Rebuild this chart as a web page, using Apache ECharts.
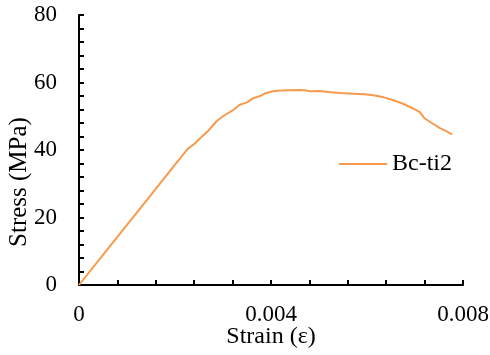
<!DOCTYPE html>
<html>
<head>
<meta charset="utf-8">
<script src="https://cdn.jsdelivr.net/npm/echarts@6/dist/echarts.min.js"></script>
<style>
  html, body { margin: 0; padding: 0; background: #fff; }
  #chart { width: 490px; height: 355px; }
</style>
</head>
<body>
<div id="chart"></div>
<script>
// Strain (ε) and stress (MPa) for specimen Bc-ti2
const strain = [
  0, 0.0005, 0.0010, 0.0015, 0.0020, 0.00227, 0.00240, 0.00258, 0.00270,
  0.00287, 0.00300, 0.00321, 0.00335, 0.00350, 0.00362, 0.00377, 0.00390,
  0.00404, 0.00420, 0.00440, 0.00460, 0.00475, 0.00480, 0.00500, 0.00520,
  0.00544, 0.00570, 0.00595, 0.00613, 0.00635, 0.00654, 0.00675, 0.00696,
  0.00710, 0.00720, 0.00735, 0.00752, 0.00765, 0.00777
];
const stress = [
  0, 8.9, 17.8, 26.7, 35.7, 40.4, 41.8, 44.2, 45.8,
  48.6, 50.0, 51.8, 53.4, 54.1, 55.3, 56.0, 56.9,
  57.4, 57.6, 57.7, 57.8, 57.6, 57.4, 57.5, 57.2,
  56.9, 56.7, 56.5, 56.2, 55.6, 54.8, 53.7, 52.3,
  51.2, 49.4, 48.0, 46.5, 45.6, 44.6
];
const seriesName = "Bc-ti2";
const LINE_COLOR = "#f79a4c";
const FONT = "Liberation Serif";

const points = strain.map((x, i) => [x, stress[i]]);

const chart = echarts.init(document.getElementById("chart"));
chart.setOption({
  animation: false,
  grid: { left: 79, right: 27, top: 15, bottom: 70, outerBoundsMode: "none", containLabel: false },
  legend: {
    left: 334,
    top: 147,
    itemWidth: 48,
    itemHeight: 2,
    icon: "rect",
    textStyle: { fontFamily: FONT, fontSize: 24, color: "#000" },
    data: [seriesName],
  },
  xAxis: {
    type: "value",
    min: 0,
    max: 0.008,
    interval: 0.004,
    name: "Strain (ε)",
    nameLocation: "middle",
    nameGap: 40,
    nameMoveOverlap: false,
    nameTextStyle: { fontFamily: FONT, fontSize: 24, color: "#000" },
    axisLine: { lineStyle: { color: "#000", width: 2 } },
    axisTick: { inside: true, length: 5, lineStyle: { color: "#000", width: 2 } },
    minorTick: { show: true, splitNumber: 5, length: 5, lineStyle: { color: "#000", width: 2 } },
    axisLabel: {
      fontFamily: FONT,
      fontSize: 23,
      color: "#000",
      margin: 18,
      formatter: (v) => (v === 0 ? "0" : v.toFixed(3)),
    },
    splitLine: { show: false },
  },
  yAxis: {
    type: "value",
    min: 0,
    max: 80,
    interval: 20,
    name: "Stress (MPa)",
    nameLocation: "middle",
    nameGap: 47,
    nameMoveOverlap: false,
    nameTextStyle: { fontFamily: FONT, fontSize: 25, color: "#000", padding: [0, 0, 0, -64] },
    axisLine: { show: true, lineStyle: { color: "#000", width: 2 } },
    axisTick: { show: true, inside: true, length: 5, lineStyle: { color: "#000", width: 2 } },
    minorTick: { show: true, splitNumber: 5, length: 5, lineStyle: { color: "#000", width: 2 } },
    axisLabel: { fontFamily: FONT, fontSize: 23, color: "#000", margin: 22 },
    splitLine: { show: false },
  },
  series: [
    {
      name: seriesName,
      type: "line",
      data: points,
      showSymbol: false,
      symbol: "none",
      lineStyle: { color: LINE_COLOR, width: 2 },
      itemStyle: { color: LINE_COLOR },
    },
  ],
});
</script>
</body>
</html>
